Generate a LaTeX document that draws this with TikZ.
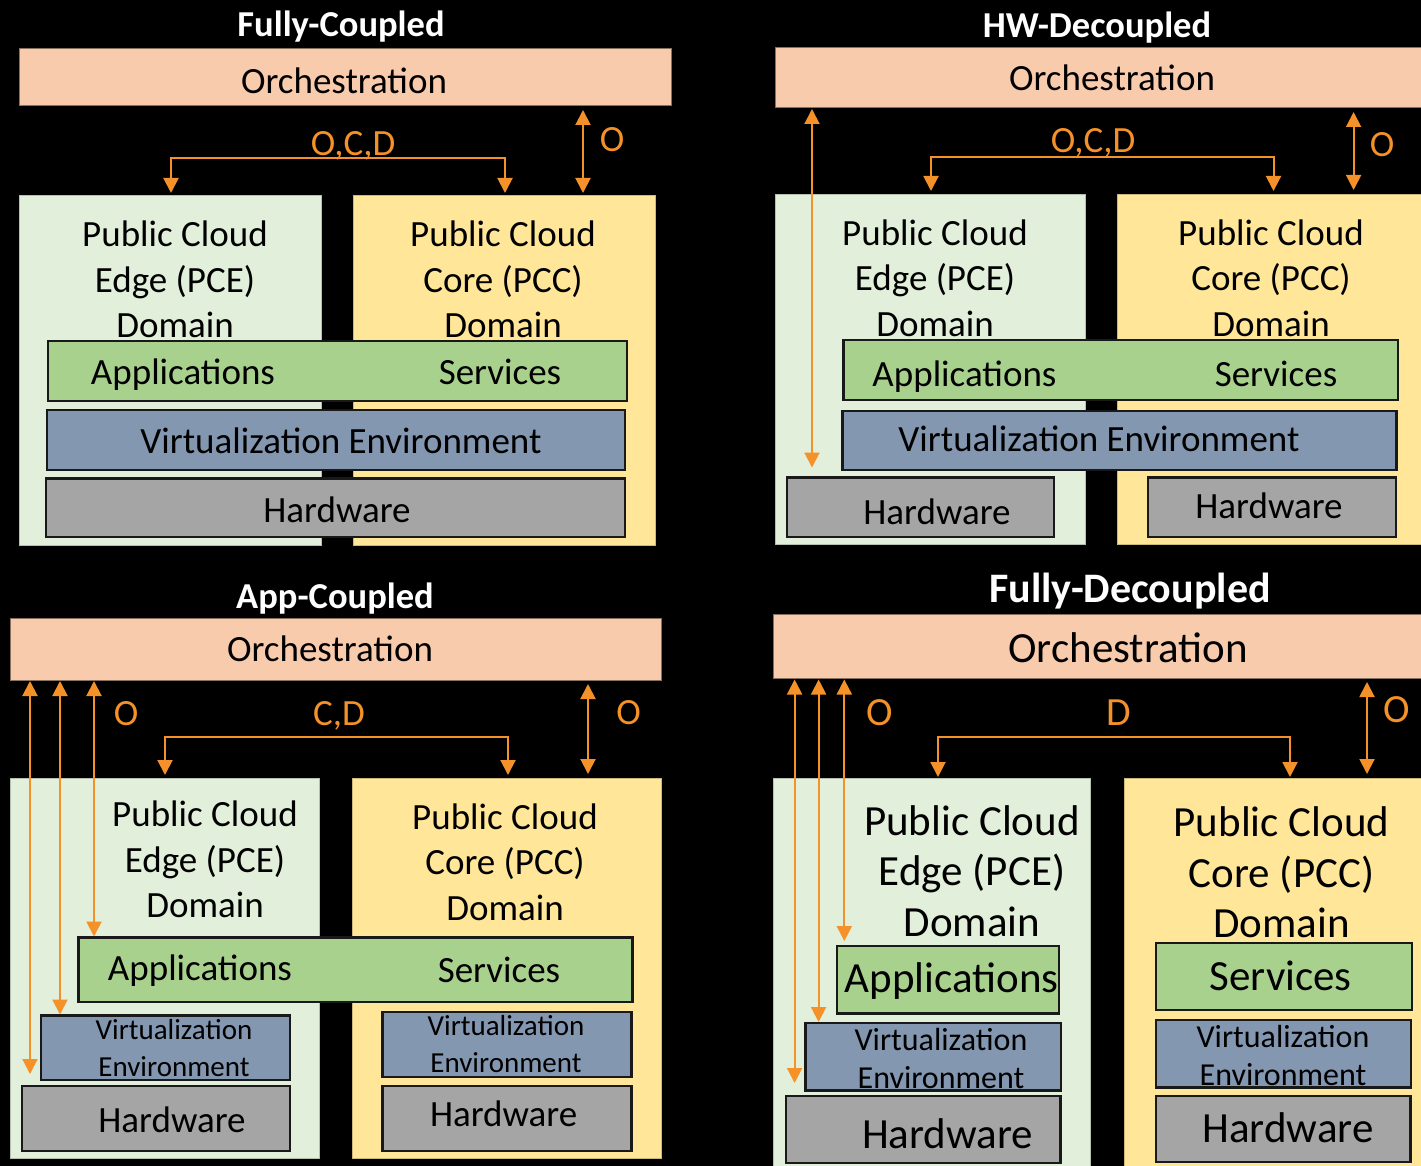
\documentclass[tikz,border=0pt]{standalone}
\usepackage{fontspec}
\setmainfont{Carlito}
\usetikzlibrary{arrows.meta}

\definecolor{orchfill}{HTML}{F8CBAD}
\definecolor{edgebg}{HTML}{E2EFDA}
\definecolor{corebg}{HTML}{FFE699}
\definecolor{appfill}{HTML}{A9D18E}
\definecolor{virtfill}{HTML}{8497B0}
\definecolor{hwfill}{HTML}{A5A5A5}
\definecolor{sig}{HTML}{F49128}

\newcommand\fs[2]{\fontsize{#1}{#2}\selectfont}
% \blk{name}{style}{x1}{y1}{x2}{y2}: a box given by its top-left and bottom-right corners
\newcommand\blk[6]{\node[#2, minimum width={(#5)-(#3)}, minimum height={(#6)-(#4)}] (#1) at (#3,#4) {};}

\tikzset{
  boxbase/.style={inner sep=0pt, outer sep=0pt, anchor=north west},
  orchbar/.style={boxbase, fill=orchfill, draw=orchfill!55!black, line width=1pt},
  edgedom/.style={boxbase, fill=edgebg, draw=edgebg!80!black, line width=0.5pt},
  coredom/.style={boxbase, fill=corebg, draw=corebg!80!black, line width=0.5pt},
  layer/.style={boxbase, draw=black!90, line width=2.6pt},
  applayer/.style={layer, fill=appfill},
  virtlayer/.style={layer, fill=virtfill},
  hwlayer/.style={layer, fill=hwfill},
  % multi-line labels sit on the baseline of their last line
  lbl/.style={inner sep=0pt, anchor=base, text=black, align=center},
  ttl/.style={lbl, text=white},
  sigtxt/.style={lbl, text=sig},
  flow/.style={draw=sig, line width=2pt,
    {Triangle[width=15pt,length=15pt]}-{Triangle[width=15pt,length=15pt]}},
  tx/.style={font=\fs{37}{45.5}},
  txbig/.style={font=\fs{43}{50.5}},
}

\begin{document}
\begin{tikzpicture}[x=1pt,y=-1pt]
\useasboundingbox (0,0) rectangle (1421,1166);
\fill[black] (0,0) rectangle (1421,1166);

% ---------------- Fully-Coupled ----------------
\blk{orch1}{orchbar}{19.6}{49}{671}{106}
\blk{pce1}{edgedom}{19.6}{195}{321}{545}
\blk{pcc1}{coredom}{353.6}{195}{655}{545}
\blk{app1}{applayer}{47.8}{341}{627}{401}
\blk{virt1}{virtlayer}{47}{410}{625}{470}
\blk{hw1}{hwlayer}{46}{478.6}{625}{537}
\node[ttl, font=\bfseries\fs{36.5}{44}] (t1) at (341,37) {Fully-Coupled};
\node[lbl, tx] (o1) at (344,93.6) {Orchestration};
\node[lbl, tx] (pcel1) at (175,337.5) {Public Cloud\\Edge (PCE)\\Domain};
\node[lbl, tx] (pccl1) at (503,337.5) {Public Cloud\\Core (PCC)\\Domain};
\node[lbl, tx] (al1) at (183,384) {Applications};
\node[lbl, tx] (sl1) at (500,384) {Services};
\node[lbl, tx] (vl1) at (341,453) {Virtualization Environment};
\node[lbl, tx] (hl1) at (337,522) {Hardware};
\node[sigtxt, tx] (k1) at (353,156) {O,C,D};
\node[sigtxt, tx] (k1o) at (612,152) {O};
\coordinate (x1a) at (171,0);
\coordinate (x1b) at (505,0);
\coordinate (x1c) at (583,0);
\coordinate (m1) at (340,158);
\draw[flow, shorten <=2pt, shorten >=2pt] (pce1.north -| x1a) |- (m1) -| (pcc1.north -| x1b);
\draw[flow, shorten <=4pt, shorten >=2pt] (orch1.south -| x1c) -- (pcc1.north -| x1c);

% ---------------- HW-Decoupled ----------------
\blk{orch2}{orchbar}{775}{48}{1425}{108}
\blk{pce2}{edgedom}{775}{194}{1085}{544}
\blk{pcc2}{coredom}{1117.5}{194}{1425}{544}
\blk{app2}{applayer}{843.5}{340}{1398}{400}
\blk{virt2}{virtlayer}{842.6}{411}{1396.6}{470}
\blk{hw2a}{hwlayer}{787}{477.5}{1054}{537}
\blk{hw2b}{hwlayer}{1148}{477.5}{1396}{537}
\node[ttl, font=\bfseries\fs{36.5}{44}] (t2) at (1097,37.5) {HW-Decoupled};
\node[lbl, tx] (o2) at (1112,91) {Orchestration};
\node[lbl, tx] (pcel2) at (935,336.4) {Public Cloud\\Edge (PCE)\\Domain};
\node[lbl, tx] (pccl2) at (1271,336.4) {Public Cloud\\Core (PCC)\\Domain};
\node[lbl, tx] (al2) at (964.5,386.8) {Applications};
\node[lbl, tx] (sl2) at (1276,386.8) {Services};
\node[lbl, tx] (vl2) at (1099,451.8) {Virtualization Environment};
\node[lbl, tx] (hl2a) at (937,524) {Hardware};
\node[lbl, tx] (hl2b) at (1269,518) {Hardware};
\node[sigtxt, tx] (k2) at (1093,152.9) {O,C,D};
\node[sigtxt, tx] (k2o) at (1382,157) {O};
\coordinate (x2a) at (931,0);
\coordinate (x2b) at (1273.5,0);
\coordinate (x2c) at (1353.6,0);
\coordinate (x2d) at (812,0);
\coordinate (m2) at (1100,157);
\draw[flow, shorten <=3pt, shorten >=3pt] (pce2.north -| x2a) |- (m2) -| (pcc2.north -| x2b);
\draw[flow, shorten <=4pt, shorten >=4pt] (orch2.south -| x2c) -- (pcc2.north -| x2c);
\draw[flow, shorten <=1pt, shorten >=10pt] (orch2.south -| x2d) -- (hw2a.north -| x2d);

% ---------------- App-Coupled ----------------
\blk{orch3}{orchbar}{10}{618}{661}{680}
\blk{pce3}{edgedom}{10}{778}{319}{1158}
\blk{pcc3}{coredom}{352}{778}{661}{1158}
\blk{app3}{applayer}{78.6}{937.5}{632.6}{1002}
\blk{virt3a}{virtlayer}{41}{1015.5}{290}{1080}
\blk{hw3a}{hwlayer}{22}{1086}{290}{1151}
\blk{virt3b}{virtlayer}{382.6}{1012}{631.7}{1077}
\blk{hw3b}{hwlayer}{382.6}{1086}{631.7}{1151}
\node[ttl, font=\bfseries\fs{36.5}{44}] (t3) at (335,608) {App-Coupled};
\node[lbl, tx] (o3) at (330,661.2) {Orchestration};
\node[lbl, tx] (pcel3) at (205,917.8) {Public Cloud\\Edge (PCE)\\Domain};
\node[lbl, tx] (pccl3) at (505,920.4) {Public Cloud\\Core (PCC)\\Domain};
\node[lbl, tx] (al3) at (200,980.5) {Applications};
\node[lbl, tx] (sl3) at (499,982.4) {Services};
\node[lbl, font=\fs{29}{37}] (vl3a) at (174,1076.6) {Virtualization\\Environment};
\node[lbl, tx] (hl3a) at (172,1132.5) {Hardware};
\node[lbl, font=\fs{29}{37}] (vl3b) at (506,1072.5) {Virtualization\\Environment};
\node[lbl, tx] (hl3b) at (503.6,1126.8) {Hardware};
\node[sigtxt, tx] (k3) at (339,725.8) {C,D};
\node[sigtxt, tx] (k3l) at (126,725.8) {O};
\node[sigtxt, tx] (k3r) at (628.6,724) {O};
\coordinate (x3a) at (165,0);
\coordinate (x3b) at (508,0);
\coordinate (x3c) at (588,0);
\coordinate (x3d) at (30,0);
\coordinate (x3e) at (60,0);
\coordinate (x3f) at (94,0);
\coordinate (m3) at (340,736.5);
\draw[flow, shorten <=3pt, shorten >=3pt] (pce3.north -| x3a) |- (m3) -| (pcc3.north -| x3b);
\draw[flow, shorten <=4pt, shorten >=4pt] (orch3.south -| x3c) -- (pcc3.north -| x3c);
\draw[flow, shorten <=1pt, shorten >=12pt] (orch3.south -| x3d) -- (hw3a.north -| x3d);
\draw[flow, shorten <=1pt, shorten >=1pt] (orch3.south -| x3e) -- (virt3a.north -| x3e);
\draw[flow, shorten <=1pt, shorten >=1pt] (orch3.south -| x3f) -- (app3.north -| x3f);

% ---------------- Fully-Decoupled ----------------
\blk{orch4}{orchbar}{773.5}{614.5}{1425}{678}
\blk{pce4}{edgedom}{773.5}{778}{1090.5}{1172}
\blk{pcc4}{coredom}{1124.7}{778}{1425}{1172}
\blk{app4}{applayer}{837}{946}{1059}{1013.6}
\blk{srv4}{applayer}{1156}{943}{1412}{1010}
\blk{virt4a}{virtlayer}{805.5}{1023}{1061}{1090.7}
\blk{hw4a}{hwlayer}{786}{1096}{1060.6}{1163}
\blk{virt4b}{virtlayer}{1156}{1020}{1411}{1087.7}
\blk{hw4b}{hwlayer}{1156}{1096}{1410.5}{1162}
\node[ttl, font=\bfseries\fs{42}{50}] (t4) at (1130,602.3) {Fully-Decoupled};
\node[lbl, txbig] (o4) at (1128,662) {Orchestration};
\node[lbl, txbig] (pcel4) at (972,936) {Public Cloud\\Edge (PCE)\\Domain};
\node[lbl, txbig] (pccl4) at (1281.5,937.5) {Public Cloud\\Core (PCC)\\Domain};
\node[lbl, txbig] (al4) at (951.8,992.6) {Applications};
\node[lbl, txbig] (sl4) at (1280.6,990) {Services};
\node[lbl, font=\fs{32}{38}] (vl4a) at (941,1088.8) {Virtualization\\Environment};
\node[lbl, txbig] (hl4a) at (947.6,1148.5) {Hardware};
\node[lbl, font=\fs{32}{38}] (vl4b) at (1283,1085) {Virtualization\\Environment};
\node[lbl, txbig] (hl4b) at (1288,1142) {Hardware};
\node[sigtxt, font=\fs{40}{48}] (k4) at (1119,725.8) {D};
\node[sigtxt, font=\fs{40}{48}] (k4l) at (880,725.8) {O};
\node[sigtxt, font=\fs{40}{48}] (k4r) at (1396.6,722.8) {O};
\coordinate (x4a) at (938,0);
\coordinate (x4b) at (1290,0);
\coordinate (x4c) at (1367,0);
\coordinate (x4d) at (794.6,0);
\coordinate (x4e) at (818.6,0);
\coordinate (x4f) at (844.3,0);
\coordinate (m4) at (1110,737);
\draw[flow, shorten <=1pt, shorten >=1pt] (pce4.north -| x4a) |- (m4) -| (pcc4.north -| x4b);
\draw[flow, shorten <=4pt, shorten >=4pt] (orch4.south -| x4c) -- (pcc4.north -| x4c);
\draw[flow, shorten <=1.5pt, shorten >=13pt] (orch4.south -| x4d) -- (hw4a.north -| x4d);
\draw[flow, shorten <=1.5pt, shorten >=1pt] (orch4.south -| x4e) -- (virt4a.north -| x4e);
\draw[flow, shorten <=1.5pt, shorten >=5pt] (orch4.south -| x4f) -- (app4.north -| x4f);
\end{tikzpicture}
\end{document}
